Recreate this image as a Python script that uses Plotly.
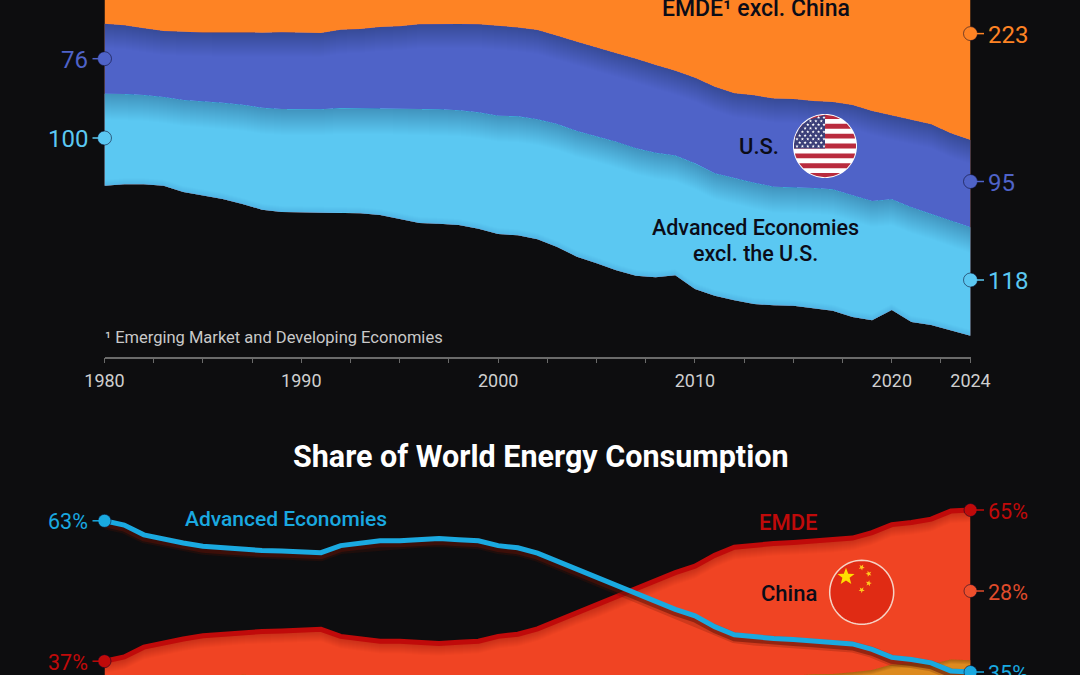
import math
import numpy as np
import plotly.graph_objects as go

# ---- data -----------------------------------------------------------------
years = list(range(1980, 2025))

# Energy consumption by group, exajoules
advanced_ex_us = [100.0, 98.2, 97.1, 96.4, 100.0, 102.5, 104.7, 108.0, 110.9, 112.0,
                  112.0, 112.0, 113.4, 114.9, 116.3, 120.3, 123.9, 124.3, 124.6, 126.4,
                  128.6, 129.3, 130.4, 133.7, 136.6, 138.4, 139.9, 138.4, 135.5, 130.4,
                  136.6, 133.0, 132.6, 131.9, 129.0, 129.0, 130.8, 131.9, 132.2, 129.7,
                  120.3, 124.6, 121.4, 119.6, 118.0]
united_states = [76.0, 74.6, 72.5, 71.7, 74.3, 75.0, 76.1, 78.3, 81.5, 83.3,
                 83.7, 83.0, 85.1, 85.5, 88.0, 89.5, 92.0, 92.8, 93.8, 95.7,
                 97.5, 96.7, 97.1, 96.0, 97.1, 96.0, 96.0, 97.5, 95.3, 92.0,
                 93.1, 94.2, 92.4, 94.9, 95.7, 95.7, 94.6, 94.9, 98.2, 97.8,
                 90.6, 94.9, 96.7, 94.9, 95.0]
emde_ex_china = [84.5, 83.8, 86.0, 89.4, 96.0, 98.8, 101.7, 106.1, 110.3, 111.5,
                 111.8, 111.5, 107.0, 105.3, 103.0, 104.9, 105.8, 106.0, 107.6, 110.9,
                 114.5, 114.5, 117.7, 124.2, 132.2, 137.0, 142.7, 147.3, 154.0, 153.1,
                 167.5, 171.5, 175.8, 178.0, 181.0, 180.7, 184.8, 186.5, 192.6, 197.8,
                 194.9, 204.4, 206.3, 215.3, 223.0]
china = [17, 18, 19, 20, 21, 23, 24, 25, 27, 28,
         28, 29, 30, 32, 34, 36, 37, 37, 37, 38,
         42, 45, 49, 57, 66, 75, 83, 90, 92, 97,
         105, 118, 126, 130, 132, 133, 134, 136, 140, 145,
         142, 150, 156, 163, 168]

# Share of world consumption, percent
emde_share = [37.0, 37.8, 39.6, 40.4, 41.1, 41.7, 42.0, 42.35, 42.5, 42.6,
              42.8, 42.9, 41.6, 41.2, 40.7, 40.7, 40.4, 40.3, 40.5, 40.7,
              41.6, 42.0, 43.0, 44.5, 46.0, 47.3, 48.8, 50.3, 51.9, 53.4,
              54.6, 56.6, 58.1, 58.5, 58.8, 59.0, 59.2, 59.4, 59.8, 60.8,
              62.3, 62.7, 63.3, 64.8, 65.0]

tick_years = [1980, 1982.5, 1985, 1987.5, 1990, 1992.5, 1995, 1997.5, 2000, 2002.5,
              2005, 2007.5, 2010, 2012.5, 2015, 2017.5, 2020, 2022.5, 2024]
tick_names = {1980: "1980", 1990: "1990", 2000: "2000", 2010: "2010", 2020: "2020", 2024: "2024"}

# ---- palette --------------------------------------------------------------
BG = "#0d0d0f"
ORANGE = "#fe8324"
BLUE = "#4f63c8"
SKY = "#5bc8f2"
RED_FILL = "#f04423"
EMDE_RED = "#c00a0a"
ADV_BLUE = "#1aa9e0"
INK = "#0b0c18"
FONT = "Roboto"

# ---- geometry -------------------------------------------------------------
W, H = 1080, 675
X_LEFT, X_RIGHT = 104.5, 970.5
STREAM_PX = 0.92       # pixels per exajoule
STREAM_MID = 58.0      # pixel row of the stream's centre line
SHARE_PX = 5.4         # pixels per percentage point
SHARE_50 = 591.0       # pixel row of the 50% level


def px(x):
    return x / W


def py(y):
    return 1 - y / H


adv = np.array(advanced_ex_us, float)
usa = np.array(united_states, float)
emde = np.array(emde_ex_china, float)
chn = np.array(china, float)
total = adv + usa + emde + chn

# Centred stream: half the total above and below the centre line
edge_bottom = -total / 2
edge_adv = edge_bottom + adv
edge_us = edge_adv + usa
edge_top = total / 2

emde_pct = np.array(emde_share, float)
adv_pct = 100 - emde_pct
china_pct = chn / total * 100
china_floor = emde_pct - china_pct

fig = go.Figure()


def band(lower, upper, color, yaxis="y"):
    fig.add_trace(go.Scatter(
        x=years + years[::-1],
        y=list(lower) + list(upper[::-1]),
        mode="lines", fill="toself", fillcolor=color, line=dict(width=0),
        yaxis=yaxis, hoverinfo="skip"))


def soft_edge(edge, per_px, direction=-1, reach=20, yaxis="y", tint="rgba(10,10,50,0.007)"):
    # Many faint overlapping strips build a smooth shade running off an edge
    for depth in range(1, reach + 1):
        band(edge + direction * depth / per_px, edge, tint, yaxis)


# ---- stream chart ---------------------------------------------------------
# Each band runs on under the next one so no seam shows between them
band(edge_bottom, edge_top, ORANGE)
band(edge_bottom, edge_us, BLUE)
soft_edge(edge_us, STREAM_PX, reach=24)
band(edge_bottom, edge_adv, SKY)
soft_edge(edge_adv, STREAM_PX, reach=26)
soft_edge(edge_bottom, STREAM_PX, direction=1, reach=6, tint="rgba(10,10,50,0.012)")

# ---- share chart ----------------------------------------------------------
floor = np.zeros(len(years))
band(floor, emde_pct, RED_FILL, "y2")
soft_edge(emde_pct, SHARE_PX, reach=12, yaxis="y2", tint="rgba(70,0,0,0.022)")
band(floor, china_floor, "#dd8a1e", "y2")
soft_edge(china_floor, SHARE_PX, reach=4, yaxis="y2", tint="rgba(90,30,0,0.09)")

fig.add_trace(go.Scatter(x=years, y=emde_pct, mode="lines", yaxis="y2", hoverinfo="skip",
                         line=dict(color=EMDE_RED, width=5)))
# Soft shadow cast by the advanced-economies line on the red area
for width, tint in ((11, "rgba(90,20,5,0.22)"), (7, "rgba(90,15,5,0.5)")):
    fig.add_trace(go.Scatter(x=years, y=adv_pct - 3 / SHARE_PX, mode="lines", yaxis="y2",
                             hoverinfo="skip", line=dict(color=tint, width=width)))
fig.add_trace(go.Scatter(x=years, y=adv_pct, mode="lines", yaxis="y2", hoverinfo="skip",
                         line=dict(color=ADV_BLUE, width=5)))


# ---- end markers with their value labels ----------------------------------
def stream_y(pixel_row):
    return (STREAM_MID - pixel_row) / STREAM_PX


def share_y(pixel_row):
    return 50 + (SHARE_50 - pixel_row) / SHARE_PX


def share_row(value):
    return SHARE_50 - (value - 50) * SHARE_PX


end_labels = [
    # year, axis, pixel row, text, marker colour, text colour, marker size
    (1980, "y", 58.7, "76", BLUE, BLUE, 14),
    (1980, "y", 138.0, "100", SKY, SKY, 14),
    (2024, "y", 33.6, "223", ORANGE, ORANGE, 14),
    (2024, "y", 181.5, "95", BLUE, BLUE, 14),
    (2024, "y", 280.0, "118", SKY, SKY, 14),
    (1980, "y2", share_row(63), "63%", ADV_BLUE, ADV_BLUE, 13),
    (1980, "y2", share_row(37), "37%", EMDE_RED, EMDE_RED, 13),
    (2024, "y2", share_row(65), "65%", EMDE_RED, EMDE_RED, 13),
    (2024, "y2", share_row(50), "28%", "#ef4f2c", "#df4b2b", 13),
    (2024, "y2", share_row(35), "35%", ADV_BLUE, ADV_BLUE, 13),
]

annotations = []
shapes = []
for year, axis, row, text, mark, ink, size in end_labels:
    left_side = year == 1980
    height = stream_y(row) if axis == "y" else share_y(row)
    stub = (92.5, 100.0) if left_side else (975.0, 984.0)
    shapes.append(dict(type="line", xref="paper", yref="paper",
                       x0=px(stub[0]), x1=px(stub[1]), y0=py(row), y1=py(row),
                       line=dict(color=ink, width=1.5), layer="above"))
    fig.add_trace(go.Scatter(
        x=[year], y=[height], mode="markers", yaxis=axis, cliponaxis=False, hoverinfo="skip",
        marker=dict(size=size, color=mark, line=dict(color="rgba(10,10,40,0.55)", width=1))))
    annotations.append(dict(
        x=px(90 if left_side else 986), xref="paper", y=py(row + 1), yref="paper",
        text=text, showarrow=False, xanchor="right" if left_side else "left", yanchor="middle",
        font=dict(family=FONT, size=24 if axis == "y" else 21.5, color=ink)))


def label(x, y, text, size, color, weight=500, anchor="center"):
    annotations.append(dict(
        x=px(x), y=py(y), xref="paper", yref="paper", text=text, showarrow=False,
        xanchor=anchor, yanchor="middle",
        font=dict(family=FONT, size=size, color=color, weight=weight)))


label(756, 9, "EMDE¹ excl. China", 23, INK)
label(759, 146, "U.S.", 22, INK)
label(755.5, 228, "Advanced Economies", 21.5, INK)
label(755.5, 253, "excl. the U.S.", 21.5, INK)
label(103, 337, "¹ Emerging Market and Developing Economies", 16.5, "#c9c9c9", 400, "left")
label(540.5, 456, "Share of World Energy Consumption", 30.5, "#ffffff", 700)
label(285.5, 519, "Advanced Economies", 21, ADV_BLUE, 500)
label(788, 522, "EMDE", 22, EMDE_RED, 500)
label(789, 593, "China", 22, INK)


# ---- flags ----------------------------------------------------------------
def path_shape(points, fill, outline=None, width=0):
    d = "M " + " L ".join(f"{px(x):.5f} {py(y):.5f}" for x, y in points) + " Z"
    shapes.append(dict(type="path", path=d, xref="paper", yref="paper", fillcolor=fill,
                       line=dict(color=outline or fill, width=width), layer="above"))


def disc(cx, cy, r, fill, outline=None, width=0):
    angles = np.linspace(0, 2 * math.pi, 72, endpoint=False)
    path_shape([(cx + r * math.cos(a), cy + r * math.sin(a)) for a in angles], fill, outline, width)


def chord_band(cx, cy, r, top, bottom, fill, right=None):
    # Horizontal strip of a disc, optionally cut off on the right
    rows = np.linspace(top, bottom, 8)
    half = [math.sqrt(max(r * r - (v - cy) ** 2, 0)) for v in rows]
    lefts = [(cx - h, v) for h, v in zip(half, rows)]
    rights = [(cx + h if right is None else min(right, cx + h), v) for h, v in zip(half, rows)]
    path_shape(lefts + rights[::-1], fill)


def star(cx, cy, r, fill, turn=0.0):
    pts = []
    for i in range(10):
        a = -math.pi / 2 + turn + i * math.pi / 5
        rad = r if i % 2 == 0 else r * 0.42
        pts.append((cx + rad * math.cos(a), cy + rad * math.sin(a)))
    path_shape(pts, fill)


# United States
US_X, US_Y, US_R = 825.0, 146.0, 32.0
disc(US_X, US_Y, US_R, "#ffffff")
stripe_h = 2 * US_R / 13
for i in range(0, 13, 2):
    chord_band(US_X, US_Y, US_R - 1, US_Y - US_R + i * stripe_h,
               US_Y - US_R + (i + 1) * stripe_h, "#b92b3e")
canton_bottom = US_Y - US_R + 7 * stripe_h
chord_band(US_X, US_Y, US_R - 1, US_Y - US_R + 1, canton_bottom, "#3b3f78", right=US_X)
for row in range(9):
    start_x = US_X - 28 + (0 if row % 2 == 0 else 2.7)
    for col in range(6 if row % 2 == 0 else 5):
        sx = start_x + col * 5.4
        sy = US_Y - US_R + 3.5 + row * 3.6
        if math.hypot(sx - US_X, sy - US_Y) < US_R - 2.5:
            star(sx, sy, 1.7, "#ffffff")

# China
CN_X, CN_Y, CN_R = 861.7, 592.3, 32.0
disc(CN_X, CN_Y, CN_R, "#e02b14", "#f6d2c4", 1.5)
star(846, 576.7, 9, "#ffde00")
star(861.7, 567.3, 3.2, "#ffc81e", 0.5)
star(868.7, 573.7, 3.2, "#ffc81e", 0.9)
star(868.7, 583.3, 3.2, "#ffc81e", 0.2)
star(861.7, 590, 3.2, "#ffc81e", 0.6)

# ---- layout ---------------------------------------------------------------
fig.update_layout(
    width=W, height=H, margin=dict(l=0, r=0, t=0, b=0, autoexpand=False),
    paper_bgcolor=BG, plot_bgcolor=BG, showlegend=False, hovermode=False,
    annotations=annotations, shapes=shapes,
    xaxis=dict(
        domain=[px(X_LEFT), px(X_RIGHT)], range=[1980, 2024], automargin=False,
        anchor="free", position=py(357.5), side="bottom",
        showgrid=False, zeroline=False, showline=True, linecolor="#6a6a6a", linewidth=1.5,
        tickmode="array", tickvals=tick_years,
        ticktext=[tick_names.get(t, "") for t in tick_years],
        ticks="outside", ticklen=5, tickwidth=1, tickcolor="#6a6a6a",
        ticklabelstandoff=2,
        tickfont=dict(family=FONT, size=18, color="#cfcfcf")),
    yaxis=dict(domain=[0, 1], visible=False, fixedrange=True, automargin=False,
               range=[stream_y(H), stream_y(0)]),
    yaxis2=dict(domain=[0, 1], visible=False, fixedrange=True, overlaying="y", anchor="x",
                automargin=False, range=[share_y(H), share_y(0)]),
)

fig.write_html("out.html")
